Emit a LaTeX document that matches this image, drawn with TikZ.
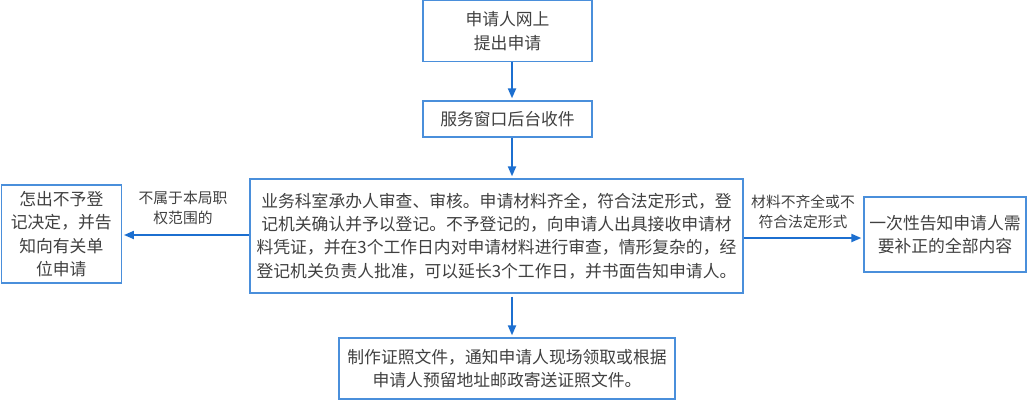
\documentclass[tikz,border=0pt]{standalone}
\usepackage{fontspec}
\setmainfont{Noto Sans CJK SC}
\usetikzlibrary{arrows.meta}
\definecolor{arrowblue}{HTML}{1C6FD0}
\definecolor{boxblue}{HTML}{4A8FDB}
\definecolor{txt}{HTML}{404040}
\begin{document}
\begin{tikzpicture}[x=1pt,y=1pt,
  flowbox/.style={draw=boxblue,line width=1.3pt,fill=white,inner sep=0pt,align=center,text=txt,
    font=\fontsize{16.8pt}{23.3pt}\selectfont},
  lbl/.style={inner sep=0pt,align=center,text=txt,font=\fontsize{14.8pt}{20pt}\selectfont},
  flowarrow/.style={draw=arrowblue,line width=2pt,-{Triangle[length=10pt,width=8pt]},shorten >=2pt}]
\useasboundingbox (0,0) rectangle (1027,-400);
\node[flowbox,minimum width=169pt,minimum height=61pt] (b1) at (507.5,-31) {申请人网上\\提出申请};
\node[flowbox,minimum width=169pt,minimum height=36pt] (b2) at (507.5,-119) {服务窗口后台收件};
\node[flowbox,minimum width=493pt,minimum height=114pt] (main) at (496.5,-236)
  {业务科室承办人审查、审核。申请材料齐全，符合法定形式，登\\记机关确认并予以登记。不予登记的，向申请人出具接收申请材\\料凭证，并在3个工作日内对申请材料进行审查，情形复杂的，经\\登记机关负责人批准，可以延长3个工作日，并书面告知申请人。};
\node[flowbox,minimum width=120pt,minimum height=98pt] (left) at (61.3,-234) {怎出不予登\\记决定，并告\\知向有关单\\位申请};
\node[flowbox,minimum width=162pt,minimum height=75pt] (right) at (945,-234.5) {一次性告知申请人需\\要补正的全部内容};
\node[flowbox,minimum width=336pt,minimum height=61pt] (bottom) at (507,-368.5) {制作证照文件，通知申请人现场领取或根据\\申请人预留地址邮政寄送证照文件。};
\node[lbl] (ll) at (183,-208) {不属于本局职\\权范围的};
\node[lbl] (rl) at (803,-212) {材料不齐全或不\\符合法定形式};
\coordinate (ax) at (512,0);
\coordinate (ly) at (0,-235);
\coordinate (ry) at (0,-238);
\draw[flowarrow] (b1.south -| ax) -- (b2.north -| ax);
\draw[flowarrow] (b2.south -| ax) -- (main.north -| ax);
\draw[flowarrow,shorten <=3pt] (main.south -| ax) -- (bottom.north -| ax);
\draw[flowarrow] (main.west |- ly) -- (left.east |- ly);
\draw[flowarrow] (main.east |- ry) -- (right.west |- ry);
\end{tikzpicture}
\end{document}
